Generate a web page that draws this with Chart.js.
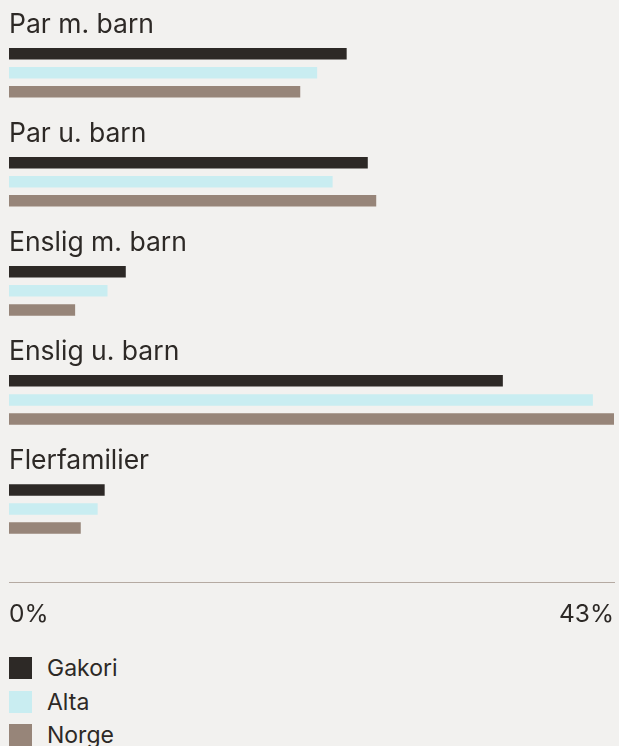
<!DOCTYPE html>
<html>
<head>
<meta charset="utf-8">
<script src="https://cdn.jsdelivr.net/npm/chart.js@4"></script>
<style>
  html, body { margin: 0; padding: 0; background: #f2f1ef; }
  body { width: 619px; height: 746px; overflow: hidden; font-family: Inter, "Noto Sans", sans-serif; color: #2d2926; }
  #wrap { position: absolute; left: 0; top: 0; width: 619px; height: 651px; }
  #legend { position: absolute; left: 0; top: 0; width: 619px; }
  .item { position: absolute; left: 9px; height: 22px; font-size: 23px; }
  .box { position: absolute; left: 0; top: 0; width: 23px; height: 22px; }
  .lbl { position: absolute; left: 38px; top: -2px; line-height: 26px; white-space: nowrap; }
</style>
</head>
<body>
<div id="wrap"><canvas id="c"></canvas></div>
<div id="legend"></div>
<script>
const categories = ["Par m. barn", "Par u. barn", "Enslig m. barn", "Enslig u. barn", "Flerfamilier"];
const seriesNames = ["Gakori", "Alta", "Norge"];
const gakori = [24.0, 25.5, 8.3, 35.1, 6.8];
const alta   = [21.9, 23.0, 7.0, 41.5, 6.3];
const norge  = [20.7, 26.1, 4.7, 43.0, 5.1];
const seriesColors = ["#2d2926", "#c9edf1", "#978579"];
const tickValues = [0, 43];

const seriesValues = [gakori, alta, norge];
const datasets = seriesNames.map((name, s) => ({
  label: name,
  data: seriesValues[s].map((v, i) => ({ x: v, y: i })),
  backgroundColor: seriesColors[s],
  borderWidth: 0,
  categoryPercentage: 0.5234,
  barPercentage: 0.605
}));

const TEXT = "#2d2926";

const categoryLabels = {
  id: "categoryLabels",
  afterDatasetsDraw(chart) {
    const ctx = chart.ctx;
    const y = chart.scales.y;
    ctx.save();
    ctx.fillStyle = TEXT;
    ctx.font = "26.5px Inter";
    ctx.textAlign = "left";
    ctx.textBaseline = "alphabetic";
    categories.forEach((c, i) => {
      ctx.fillText(c, 9, y.getPixelForValue(i) - 39.8);
    });
    ctx.restore();
  }
};

new Chart(document.getElementById("c"), {
  type: "bar",
  data: { datasets },
  options: {
    indexAxis: "y",
    responsive: true,
    maintainAspectRatio: false,
    animation: false,
    layout: { padding: { left: 9, right: 5, top: 0, bottom: 5 } },
    plugins: { legend: { display: false }, tooltip: { enabled: false } },
    scales: {
      y: {
        type: "linear",
        reverse: true,
        offset: false,
        min: -0.668,
        max: 4.676,
        display: false,
        afterBuildTicks(scale) { scale.ticks = categories.map((c, i) => ({ value: i })); }
      },
      x: {
        type: "linear",
        min: 0,
        max: 43,
        offset: false,
        grid: { display: false, drawTicks: false },
        border: { display: true, color: "#b5aaa2", width: 1 },
        afterBuildTicks(scale) { scale.ticks = tickValues.map(v => ({ value: v })); },
        afterFit(scale) { scale.paddingLeft = 0; scale.paddingRight = 0; scale.paddingTop = 0; scale.paddingBottom = 0; },
        ticks: {
          align: "inner",
          padding: 17,
          color: TEXT,
          font: { family: "Inter", size: 24.5 },
          callback: v => v + "%"
        }
      }
    }
  },
  plugins: [categoryLabels]
});

const legend = document.getElementById("legend");
seriesNames.forEach((name, s) => {
  const it = document.createElement("div");
  it.className = "item";
  it.style.top = (657 + s * 33.7) + "px";
  it.innerHTML = '<span class="box" style="background:' + seriesColors[s] + '"></span><span class="lbl">' + name + '</span>';
  legend.appendChild(it);
});
</script>
</body>
</html>
